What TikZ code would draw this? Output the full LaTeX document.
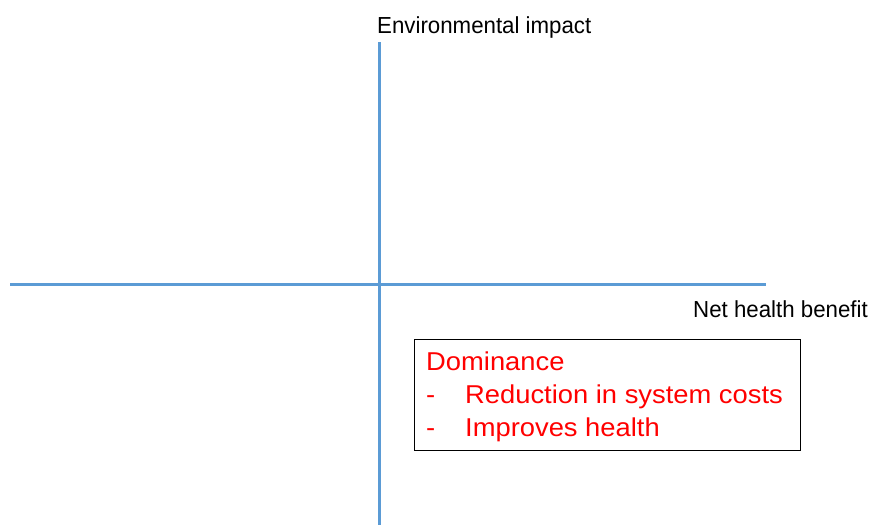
\documentclass[tikz,border=0pt]{standalone}
\usepackage{fontspec}
\setmainfont{Liberation Sans}
\newfontfamily\lblfont[FakeStretch=0.96]{Liberation Sans}
\newfontfamily\redfont[FakeStretch=1.06]{Liberation Sans}
\definecolor{axisblue}{RGB}{91,155,213}
\definecolor{domred}{RGB}{255,0,0}
\tikzset{
  axis/.style={draw=axisblue, line width=3pt},
  lbl/.style={inner sep=0pt, font=\lblfont\fontsize{23.2}{26}\selectfont, text=black},
  redtxt/.style={inner sep=0pt, font=\redfont\fontsize{25.8}{30}\selectfont, text=domred},
  domframe/.style={draw=black, line width=1pt}
}
\begin{document}
\begin{tikzpicture}[x=1pt,y=-1pt]
\useasboundingbox (0,0) rectangle (873,525);
\coordinate (vtop) at (379,42);
\coordinate (vbot) at (379,525);
\coordinate (hl) at (10,284);
\coordinate (hr) at (766,284);
\draw[axis] (vtop) -- (vbot);
\draw[axis] (hl) -- (hr);
\node[lbl, anchor=base west] (ylab) at (377,33) {Environmental impact};
\node[lbl, anchor=base east] (xlab) at (868,317) {Net health benefit};
\coordinate (bnw) at (414,339);
\coordinate (bse) at (800,450);
\fill[white] (bnw) rectangle (bse);
\draw[domframe] (bnw) rectangle (bse);
\node[redtxt, anchor=base west] (t1) at (426,370) {Dominance};
\node[redtxt, anchor=base west] (d2) at (426,403) {-};
\node[redtxt, anchor=base west] (t2) at (465,403) {Reduction in system costs};
\node[redtxt, anchor=base west] (d3) at (426,436) {-};
\node[redtxt, anchor=base west] (t3) at (465,436) {Improves health};
\end{tikzpicture}
\end{document}
